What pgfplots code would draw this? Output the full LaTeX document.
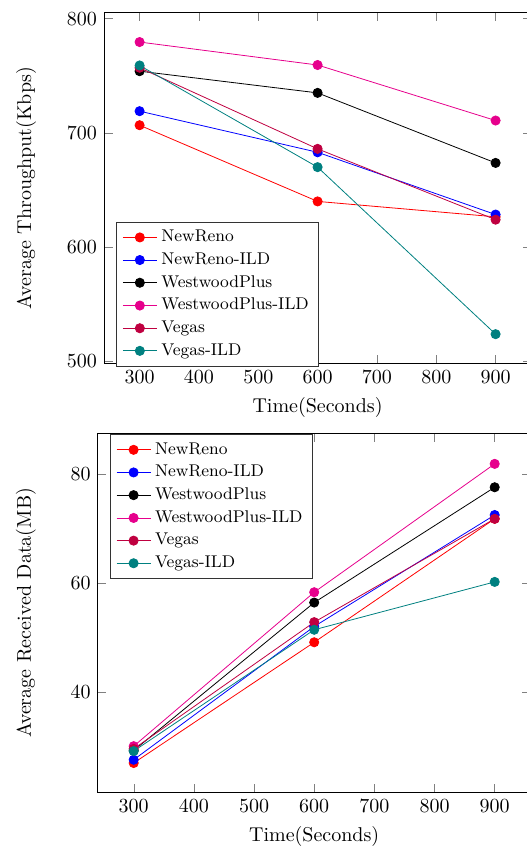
\documentclass[border=0pt]{standalone}
\usepackage{pgfplots}
\pgfplotsset{compat=1.18}
\definecolor{cNR}{RGB}{255,0,0}
\definecolor{cNRI}{RGB}{0,0,255}
\definecolor{cWP}{RGB}{0,0,0}
\definecolor{cWPI}{RGB}{230,0,140}
\definecolor{cV}{RGB}{191,0,64}
\definecolor{cVI}{RGB}{0,128,128}
\pgfplotsset{
  myax/.style={
    scale only axis, anchor=north west,
    xmin=240, xmax=960,
    xtick={300,400,500,600,700,800,900},
    xlabel={Time(Seconds)},
    legend cell align=left,
    legend style={font=\fontsize{8.5}{10}\selectfont, draw=black!80, anchor=south west},
    every axis plot/.append style={mark=*, mark size=2.3pt, line width=0.4pt},
  }
}
\begin{document}
\begin{tikzpicture}
\path (0,0) rectangle (263pt,-425.5pt);
\begin{pgfinterruptboundingbox}
\begin{axis}[myax,
  at={(52pt,-6.4pt)}, width=213.6pt, height=175.3pt,
  ymin=498.2, ymax=805.1, ytick={500,600,700,800},
  ylabel={Average Throughput(Kbps)}, ylabel shift=8.5pt,
  legend style={at={(0.028,-0.009)}, anchor=south west},
]
\addplot[color=cNR, mark options={fill=cNR}] coordinates {(300,706.7) (600,640) (900,626.5)};
\addlegendentry{NewReno}
\addplot[color=cNRI, mark options={fill=cNRI}] coordinates {(300,719) (600,683) (900,628.5)};
\addlegendentry{NewReno-ILD}
\addplot[color=cWP, mark options={fill=cWP}] coordinates {(300,754) (600,735) (900,673.7)};
\addlegendentry{WestwoodPlus}
\addplot[color=cWPI, mark options={fill=cWPI}] coordinates {(300,779.5) (600,759.4) (900,710.8)};
\addlegendentry{WestwoodPlus-ILD}
\addplot[color=cV, mark options={fill=cV}] coordinates {(300,757) (600,686) (900,624)};
\addlegendentry{Vegas}
\addplot[color=cVI, mark options={fill=cVI}] coordinates {(300,759) (600,670) (900,523.8)};
\addlegendentry{Vegas-ILD}
\end{axis}
\begin{axis}[myax,
  at={(48.8pt,-216.7pt)}, width=216.6pt, height=179.5pt,
  ymin=21.5, ymax=87.5, ytick={40,60,80},
  ylabel={Average Received Data(MB)}, ylabel shift=10.5pt,
  legend style={at={(0.028,0.998)}, anchor=north west},
]
\addplot[color=cNR, mark options={fill=cNR}] coordinates {(300,26.9) (600,49.1) (900,71.8)};
\addlegendentry{NewReno}
\addplot[color=cNRI, mark options={fill=cNRI}] coordinates {(300,27.5) (600,52.0) (900,72.5)};
\addlegendentry{NewReno-ILD}
\addplot[color=cWP, mark options={fill=cWP}] coordinates {(300,29.2) (600,56.4) (900,77.6)};
\addlegendentry{WestwoodPlus}
\addplot[color=cWPI, mark options={fill=cWPI}] coordinates {(300,30.0) (600,58.3) (900,81.9)};
\addlegendentry{WestwoodPlus-ILD}
\addplot[color=cV, mark options={fill=cV}] coordinates {(300,29.5) (600,52.8) (900,71.8)};
\addlegendentry{Vegas}
\addplot[color=cVI, mark options={fill=cVI}] coordinates {(300,29.1) (600,51.4) (900,60.2)};
\addlegendentry{Vegas-ILD}
\end{axis}
\end{pgfinterruptboundingbox}
\end{tikzpicture}
\end{document}
